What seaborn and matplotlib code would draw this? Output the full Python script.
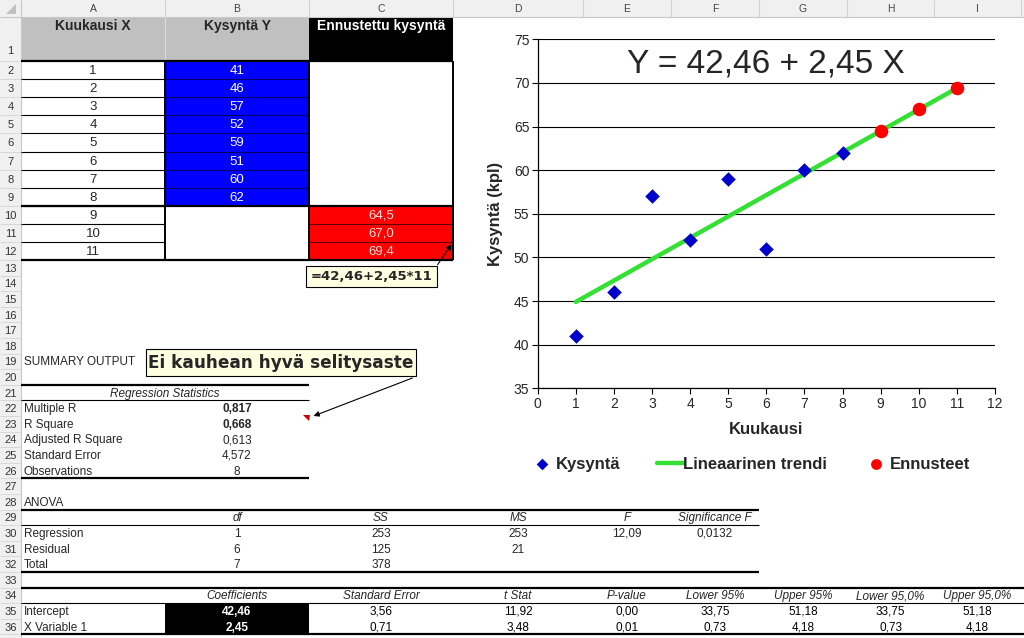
import matplotlib

matplotlib.use("Agg")
import matplotlib.pyplot as plt
import numpy as np
import pandas as pd
import seaborn as sns
from matplotlib.patches import Rectangle, Polygon

# ---------------------------------------------------------------------------
# data
# ---------------------------------------------------------------------------
months = [1, 2, 3, 4, 5, 6, 7, 8]
demand = [41, 46, 57, 52, 59, 51, 60, 62]
fc_months = [9, 10, 11]
forecast = [64.5, 67.0, 69.4]
trend_x = [1, 11]
trend_y = [44.9, 69.4]

reg_labels = ["Multiple R", "R Square", "Adjusted R Square", "Standard Error", "Observations"]
reg_values = ["0,817", "0,668", "0,613", "4,572", "8"]

anova_head = ["df", "SS", "MS", "F", "Significance F"]
anova_rows = [
    ["Regression", "1", "253", "253", "12,09", "0,0132"],
    ["Residual", "6", "125", "21", "", ""],
    ["Total", "7", "378", "", "", ""],
]

coef_head = ["Coefficients", "Standard Error", "t Stat", "P-value",
             "Lower 95%", "Upper 95%", "Lower 95,0%", "Upper 95,0%"]
coef_rows = [
    ["Intercept", "42,46", "3,56", "11,92", "0,00", "33,75", "51,18", "33,75", "51,18"],
    ["X Variable 1", "2,45", "0,71", "3,48", "0,01", "0,73", "4,18", "0,73", "4,18"],
]

sns.set_theme(style="white")
plt.rcParams["font.family"] = ["Liberation Sans", "DejaVu Sans"]

W, H = 1024, 638
fig = plt.figure(figsize=(W / 100, H / 100), dpi=100)
bg = fig.add_axes([0, 0, 1, 1])
bg.set_xlim(0, W)
bg.set_ylim(H, 0)
bg.axis("off")

cols = {"A": (21, 165), "B": (165, 309), "C": (309, 453), "D": (453, 583),
        "E": (583, 671), "F": (671, 759), "G": (759, 847), "H": (847, 934),
        "I": (934, 1021)}
letters = list(cols)


def rtop(r):
    if r == 1:
        return 17
    if r <= 12:
        return 61 + (r - 2) * 18.1
    return 260 + (r - 13) * 15.6


def rmid(r):
    return (rtop(r) + rtop(r + 1)) / 2 + 1


def cmid(c):
    return sum(cols[c]) / 2


def hline(y, x0, x1, lw=0.8, color="black"):
    bg.plot([x0, x1], [y, y], color=color, lw=lw, solid_capstyle="butt")


def vline(x, y0, y1, lw=0.8, color="black"):
    bg.plot([x, x], [y0, y1], color=color, lw=lw, solid_capstyle="butt")


def fill(c, r0, r1, color):
    x0, x1 = cols[c]
    bg.add_patch(Rectangle((x0, rtop(r0)), x1 - x0, rtop(r1 + 1) - rtop(r0),
                           facecolor=color, edgecolor="none", zorder=0.5))


# sheet headers
bg.add_patch(Rectangle((0, 0), W, 17, facecolor="#f0f0f0", edgecolor="none"))
bg.add_patch(Rectangle((0, 0), 21, H, facecolor="#f0f0f0", edgecolor="none"))
hline(17, 0, W, 0.8, "#c8c8c8")
vline(21, 0, H, 0.8, "#c8c8c8")
bg.add_patch(Polygon([(16, 4), (16, 14), (6, 14)], facecolor="#c0c0c0", edgecolor="none"))
for c in letters:
    bg.text(cmid(c), 9, c, ha="center", va="center", fontsize=7.5, color="#444444")
    vline(cols[c][1], 0, 17, 0.8, "#d0d0d0")
for r in range(1, 37):
    y = rtop(1) + 34 if r == 1 else rmid(r)
    bg.text(10.5, y, str(r), ha="center", va="center", fontsize=8, color="#333333")
    hline(rtop(r + 1), 0, 21, 0.6, "#d4d4d4")

# top data table
fill("A", 1, 1, "#c0c0c0")
fill("B", 1, 1, "#c0c0c0")
fill("C", 1, 1, "black")
vline(165, 17, 61, 0.8, "#dcdcdc")
bg.text(cmid("A"), 26, "Kuukausi X", ha="center", va="center", fontsize=10, weight="bold")
bg.text(cmid("B"), 26, "Kysyntä Y", ha="center", va="center", fontsize=10, weight="bold")
bg.text(cmid("C"), 26, "Ennustettu kysyntä", ha="center", va="center", fontsize=10,
        weight="bold", color="white")
fill("B", 2, 9, "#0000ff")
fill("C", 10, 12, "#ff0000")
for i, m in enumerate(months + fc_months):
    bg.text(cmid("A"), rmid(i + 2), str(m), ha="center", va="center", fontsize=9.5)
for i, d in enumerate(demand):
    bg.text(cmid("B"), rmid(i + 2), str(d), ha="center", va="center", fontsize=9.5,
            color="white")
for i, f in enumerate(forecast):
    bg.text(cmid("C"), rmid(i + 10), f"{f:.1f}".replace(".", ","), ha="center",
            va="center", fontsize=9.5, color="#ffe0e0")
for r in range(3, 13):
    hline(rtop(r), 21, 165, 0.8)
    if r <= 9:
        hline(rtop(r), 165, 309, 0.8, "#000066")
    if r >= 11:
        hline(rtop(r), 309, 453, 0.8, "#600000")
hline(61, 21, 453, 1.6)
hline(rtop(10), 21, 453, 1.6)
hline(rtop(13), 21, 453, 1.6)
for x in (165, 309, 453):
    vline(x, 61, rtop(13), 1.4)

# callouts
bg.add_patch(Rectangle((306, 266), 131, 21, facecolor="#ffffe1", edgecolor="black",
                       lw=0.8, zorder=3))
bg.text(371.5, 277, "=42,46+2,45*11", ha="center", va="center", fontsize=9.5,
        weight="bold", family="DejaVu Sans", zorder=4)
bg.annotate("", xy=(453, 242), xytext=(436, 267),
            arrowprops=dict(arrowstyle="-|>", color="black", lw=0.8, mutation_scale=8))
bg.add_patch(Rectangle((146, 349), 270, 27, facecolor="#ffffe1", edgecolor="black",
                       lw=0.8, zorder=3))
bg.text(281, 362.5, "Ei kauhean hyvä selitysaste", ha="center", va="center",
        fontsize=12.2, weight="bold", family="DejaVu Sans", zorder=4)
bg.annotate("", xy=(311, 417), xytext=(415, 377),
            arrowprops=dict(arrowstyle="-|>", color="black", lw=0.8, mutation_scale=8))
bg.add_patch(Polygon([(303, 415), (310, 415), (309, 421)], facecolor="#cc0000",
                     edgecolor="none"))

# summary output
bg.text(24, rmid(19), "SUMMARY OUTPUT", ha="left", va="center", fontsize=8.5)
hline(rtop(21), 21, 309, 1.6)
bg.text(165, rmid(21), "Regression Statistics", ha="center", va="center",
        fontsize=8.5, style="italic")
hline(rtop(22), 21, 309, 0.8)
for i, (lab, val) in enumerate(zip(reg_labels, reg_values)):
    bg.text(24, rmid(22 + i), lab, ha="left", va="center", fontsize=8.5)
    bg.text(cmid("B"), rmid(22 + i), val, ha="center", va="center", fontsize=8.5,
            weight="bold" if i < 2 else "normal")
hline(rtop(27), 21, 309, 1.6)

bg.text(24, rmid(28), "ANOVA", ha="left", va="center", fontsize=8.5)
hline(rtop(29), 21, 759, 1.6)
for c, h in zip(letters[1:], anova_head):
    bg.text(cmid(c), rmid(29), h, ha="center", va="center", fontsize=8.5, style="italic")
hline(rtop(30), 21, 759, 0.8)
for i, row in enumerate(anova_rows):
    bg.text(24, rmid(30 + i), row[0], ha="left", va="center", fontsize=8.5)
    for c, v in zip(letters[1:], row[1:]):
        bg.text(cmid(c), rmid(30 + i), v, ha="center", va="center", fontsize=8.5)
hline(rtop(33), 21, 759, 1.6)

hline(rtop(34), 21, W, 1.6)
for c, h in zip(letters[1:], coef_head):
    bg.text(cmid(c), rmid(34), h, ha="center", va="center", fontsize=8.5, style="italic")
hline(rtop(35), 21, W, 0.8)
fill("B", 35, 36, "black")
for i, row in enumerate(coef_rows):
    bg.text(24, rmid(35 + i), row[0], ha="left", va="center", fontsize=8.5)
    for j, (c, v) in enumerate(zip(letters[1:], row[1:])):
        bg.text(cmid(c), rmid(35 + i), v, ha="center", va="center", fontsize=8.5,
                color="white" if j == 0 else "black",
                weight="bold" if j == 0 else "normal")
hline(rtop(37), 21, W, 1.6)

# ---------------------------------------------------------------------------
# chart
# ---------------------------------------------------------------------------
left, right, top, bottom = 537.7, 995, 39.3, 388.3
ax = fig.add_axes([left / W, (H - bottom) / H, (right - left) / W, (bottom - top) / H])
ax.set_facecolor("white")

sns.lineplot(x=trend_x, y=trend_y, color="#33e033", lw=3.2, label="Lineaarinen trendi",
             ax=ax, zorder=2)
sns.scatterplot(x=months, y=demand, marker="D", color="#0000cc", s=55, linewidth=0,
                label="Kysyntä", ax=ax, zorder=3)
sns.scatterplot(x=fc_months, y=forecast, marker="o", color="#ff0000", s=95, linewidth=0,
                label="Ennusteet", ax=ax, zorder=3)

ax.set_xlim(0, 12)
ax.set_ylim(35, 75)
ax.set_xticks(range(0, 13))
ax.set_yticks(range(35, 80, 5))
ax.yaxis.grid(True, color="black", lw=0.8)
ax.xaxis.grid(False)
for s in ("top", "right"):
    ax.spines[s].set_visible(False)
for s in ("left", "bottom"):
    ax.spines[s].set_color("black")
    ax.spines[s].set_linewidth(0.9)
ax.tick_params(direction="out", length=4, width=0.8, color="black", labelsize=10,
               pad=2, left=True, bottom=True)
ax.set_xlabel("Kuukausi", fontsize=12, weight="bold", labelpad=8)
ax.set_ylabel("Kysyntä (kpl)", fontsize=12, weight="bold", labelpad=8)
ax.text(6, 72.2, "Y = 42,46 + 2,45 X", ha="center", va="center", fontsize=24)

h, l = ax.get_legend_handles_labels()
order = [l.index("Kysyntä"), l.index("Lineaarinen trendi"), l.index("Ennusteet")]
ax.legend([h[i] for i in order], [l[i] for i in order], loc="center",
          bbox_to_anchor=(0.464, -0.217), ncol=3, frameon=False, markerscale=0.8,
          handlelength=1.56, handletextpad=0.05, columnspacing=2.15,
          prop={"size": 12, "weight": "bold"})

fig.savefig("out.png", dpi=100)
